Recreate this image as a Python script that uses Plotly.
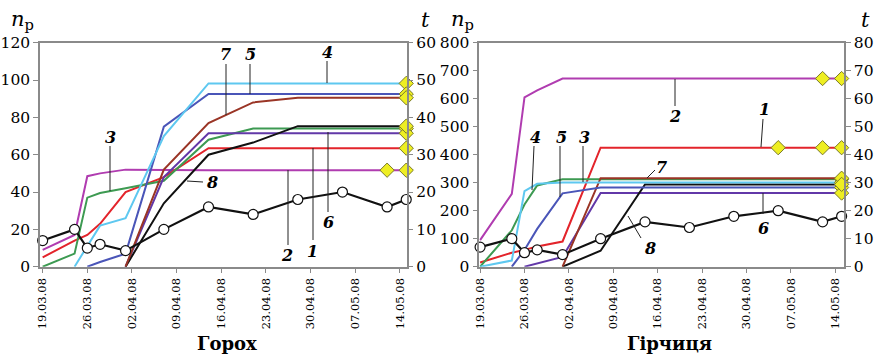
import plotly.graph_objects as go

W, H = 879, 356
FONT = "DejaVu Serif"

# ---------------- data ----------------
dates = ["2008-03-19", "2008-03-24", "2008-03-26", "2008-03-28", "2008-04-01", "2008-04-07",
         "2008-04-14", "2008-04-21", "2008-04-28", "2008-05-05", "2008-05-12", "2008-05-15"]
temperature = [7, 10, 5, 6, 4.3, 10, 16, 14, 18, 20, 16, 18]

N = None
# Горох (pea), n_p by series 1..8
pea_1 = [5, 14, 17, 23, 40, 48, 63.5, 63.5, 63.5, 63.5, 63.5, 63.5]
pea_2 = [9, 17, 48.5, 50, 52, 51.7, 51.7, 51.7, 51.7, 51.7, 51.7, 51.7]
pea_3 = [0, 7, 37, 39.5, 42, 46, 68, 74, 74, 74, 74, 74]
pea_4 = [N, 0, 11, 22, 26, 70, 98.2, 98.2, 98.2, 98.2, 98.2, 98.2]
pea_5 = [N, N, 0, 2.5, 7, 75, 92.5, 92.5, 92.5, 92.5, 92.5, 92.5]
pea_6 = [N, N, N, N, 0, 48, 71.5, 71.5, 71.5, 71.5, 71.5, 71.5]
pea_7 = [N, N, N, N, 0, 52, 77, 88, 90.5, 90.5, 90.5, 90.5]
pea_8 = [N, N, N, N, 0, 34, 60, 66.5, 75.3, 75.3, 75.3, 75.3]

# Гірчиця (mustard)
mus_1 = [15, 50, 60, 72, 90, 425, 425, 425, 425, 425, 425, 425]
mus_2 = [95, 260, 605, 630, 672, 672, 672, 672, 672, 672, 672, 672]
mus_3 = [0, 130, 222, 290, 312, 312, 312, 312, 312, 312, 312, 312]
mus_4 = [0, 22, 270, 296, 301, 301, 301, 301, 301, 301, 301, 301]
mus_5 = [N, 0, 60, 135, 262, 283, 283, 283, 283, 283, 283, 283]
mus_6 = [N, N, 0, 12, 35, 263, 263, 263, 263, 263, 263, 263]
mus_7 = [N, N, N, N, 0, 316, 316, 316, 316, 316, 316, 316]
mus_8 = [N, N, N, N, 0, 57, 294, 294, 294, 294, 294, 294]

series_names = ["1", "2", "3", "4", "5", "6", "7", "8"]
colors = ["#e3242b", "#b03cb0", "#3d9a52", "#5ec8f0", "#4a55b8", "#6238a8", "#9a3526", "#111111"]
draw_order = [1, 0, 2, 5, 7, 6, 4, 3]

# dates where yellow diamonds mark a series
pea_marks = {0: ["2008-05-15"], 1: ["2008-05-12", "2008-05-15"], 2: ["2008-05-15"],
             3: ["2008-05-15"], 4: ["2008-05-15"], 5: ["2008-05-15"], 6: ["2008-05-15"],
             7: ["2008-05-15"]}
mus_marks = {0: ["2008-05-05", "2008-05-12", "2008-05-15"], 1: ["2008-05-12", "2008-05-15"],
             2: ["2008-05-15"], 3: ["2008-05-15"], 4: ["2008-05-15"], 5: ["2008-05-15"],
             6: ["2008-05-15"], 7: ["2008-05-15"]}

tick_dates = ["2008-03-19", "2008-03-26", "2008-04-02", "2008-04-09", "2008-04-16",
              "2008-04-23", "2008-04-30", "2008-05-07", "2008-05-14"]

pea = [pea_1, pea_2, pea_3, pea_4, pea_5, pea_6, pea_7, pea_8]
mus = [mus_1, mus_2, mus_3, mus_4, mus_5, mus_6, mus_7, mus_8]

# ---------------- figure ----------------
fig = go.Figure()


def add_panel(data, marks, xa, ya, ya2):
    for i in draw_order:
        fig.add_trace(go.Scatter(x=dates, y=data[i], mode="lines", name=series_names[i],
                                 line=dict(color=colors[i], width=2),
                                 xaxis=xa, yaxis=ya, showlegend=False, connectgaps=False))
    mx, my = [], []
    for i, ds in marks.items():
        for d in ds:
            mx.append(d)
            my.append(data[i][dates.index(d)])
    fig.add_trace(go.Scatter(x=mx, y=my, mode="markers",
                             marker=dict(symbol="diamond", size=11, color="#eeee22",
                                         line=dict(color="#7a7a2a", width=1)),
                             xaxis=xa, yaxis=ya, showlegend=False, cliponaxis=False))
    fig.add_trace(go.Scatter(x=dates, y=temperature, mode="lines+markers",
                             line=dict(color="#111111", width=2.2),
                             marker=dict(symbol="circle", size=10, color="white",
                                         line=dict(color="#111111", width=1.2)),
                             xaxis=xa, yaxis=ya2, showlegend=False, cliponaxis=False))


add_panel(pea, pea_marks, "x", "y", "y2")
add_panel(mus, mus_marks, "x2", "y3", "y4")

ydom = [1 - 266.7 / H, 1 - 42.7 / H]
axcol = "#8a8a8a"
tickfont = dict(family=FONT, size=15.5, color="black")
xtickfont = dict(family=FONT, size=11.5, color="black")

xcommon = dict(type="date", tickmode="array", tickvals=tick_dates,
               ticktext=[f"{d[8:10]}.{d[5:7]}.{d[2:4]}" for d in tick_dates],
               tickangle=-90, tickfont=xtickfont, showgrid=False, zeroline=False,
               showline=True, linecolor=axcol, linewidth=1.5, mirror=True,
               ticks="outside", ticklen=5, tickcolor=axcol, automargin=False)
ycommon = dict(showgrid=False, zeroline=False, showline=True, linecolor=axcol, linewidth=1.5,
               ticks="outside", ticklen=5, tickcolor=axcol, tickfont=tickfont,
               automargin=False)

fig.update_layout(
    template="none",
    width=W, height=H, margin=dict(l=0, r=0, t=0, b=0, pad=0),
    paper_bgcolor="white", plot_bgcolor="white",
    font=dict(family=FONT, color="black"),
    xaxis=dict(domain=[40 / W, 406.5 / W], range=["2008-03-18 14:00", "2008-05-15 01:00"],
               anchor="y", **xcommon),
    yaxis=dict(domain=ydom, range=[0, 120], dtick=20, anchor="x", side="left", **ycommon),
    yaxis2=dict(range=[0, 60], dtick=10, overlaying="y", anchor="x", side="right", **ycommon),
    xaxis2=dict(domain=[479.3 / W, 844 / W], range=["2008-03-18 21:00", "2008-05-15 09:00"],
                anchor="y3", **xcommon),
    yaxis3=dict(domain=ydom, range=[0, 800], dtick=100, anchor="x2", side="left", **ycommon),
    yaxis4=dict(range=[0, 80], dtick=10, overlaying="y3", anchor="x2", side="right", **ycommon),
)


def P(x, y):
    return x / W, 1 - y / H


annotations = []
shapes = []


def text(x, y, s, size, bold=False, italic=False):
    px, py = P(x, y)
    if bold:
        s = f"<b>{s}</b>"
    if italic:
        s = f"<i>{s}</i>"
    annotations.append(dict(x=px, y=py, xref="paper", yref="paper", text=s, showarrow=False,
                            xanchor="center", yanchor="middle",
                            font=dict(family=FONT, size=size, color="black")))


def leader(x0, y0, x1, y1):
    a, b = P(x0, y0)
    c, d = P(x1, y1)
    shapes.append(dict(type="line", xref="paper", yref="paper", x0=a, y0=b, x1=c, y1=d,
                       line=dict(color="#222222", width=1)))


# titles
text(227, 343, "Горох", 18, bold=True)
text(669, 343, "Гірчиця", 18, bold=True)
# axis names
text(22, 20, "<i>n</i><sub>p</sub>", 21)
text(425, 20, "<i>t</i>", 21)
text(462, 20, "<i>n</i><sub>p</sub>", 21)
text(865, 20, "<i>t</i>", 21)

# series labels with leader lines
left_labels = [("3", 110, 137, (110, 146, 110, 191)), ("7", 226, 55, (226, 64, 226, 115)),
               ("5", 250, 55, (250, 64, 250, 94)), ("4", 327, 52, (327, 61, 327, 83)),
               ("8", 212, 182, (203, 182, 187, 181)), ("2", 287, 255, (288, 245, 288, 170)),
               ("1", 312, 251, (313, 240, 313, 148)), ("6", 328, 222, (328, 212, 328, 132))]
right_labels = [("2", 675, 117, (675, 106, 675, 79)), ("1", 764, 110, (763, 119, 761, 147)),
                ("4", 535, 137, (534, 146, 532, 190)), ("5", 561, 137, (560, 146, 560, 197)),
                ("3", 584, 137, (583, 146, 583, 182)), ("7", 661, 167, (655, 170, 647, 178)),
                ("8", 650, 248, (641, 238, 628, 216)), ("6", 763, 228, (763, 214, 763, 193))]
for lab, x, y, ln in left_labels + right_labels:
    text(x, y, lab, 16, bold=True, italic=True)
    leader(*ln)

fig.update_layout(annotations=annotations, shapes=shapes)

fig.write_html("out.html", config={"displayModeBar": False},
               post_script="document.body.style.margin='0px';")
